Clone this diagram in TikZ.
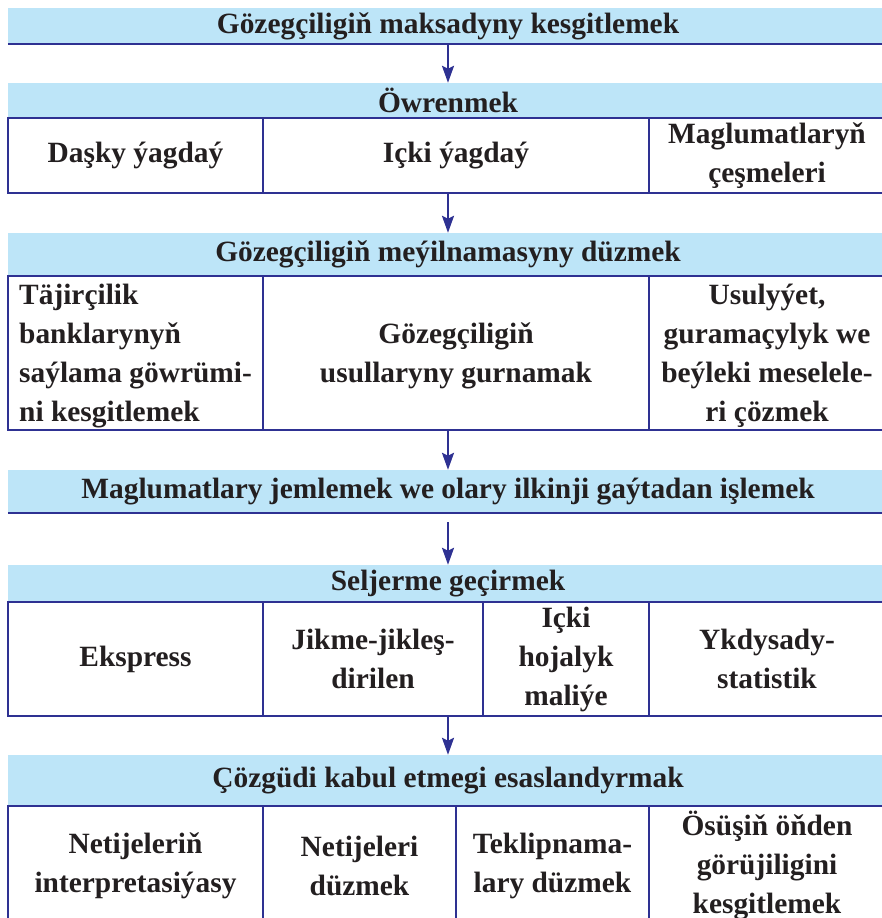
\documentclass[tikz,border=0pt]{standalone}
\usepackage{fontspec}
\setmainfont{Liberation Serif}
\usetikzlibrary{arrows.meta,calc}
\definecolor{barfill}{HTML}{BDE5F8}
\definecolor{lineblue}{HTML}{2E3192}
\definecolor{txt}{HTML}{231F20}
\begin{document}
\begin{tikzpicture}[x=1pt,y=-1pt,
  bar/.style={fill=barfill, minimum width=880pt, inner sep=0pt,
    font=\fontsize{29.4}{39}\selectfont\bfseries, text=txt},
  rowbox/.style={draw=lineblue, line width=1.8pt, minimum width=880pt, inner sep=0pt},
  cell/.style={font=\fontsize{29.4}{39}\selectfont\bfseries, text=txt, align=center, inner sep=0pt},
  sepline/.style={draw=lineblue, line width=1.8pt},
  flow/.style={draw=lineblue, line width=2.4pt, -{Stealth[length=17pt,width=12pt,inset=3pt]}}]
\useasboundingbox (0,0) rectangle (882,918);
\clip (0,0) rectangle (882,918);

% bars
\node[bar, minimum height=36pt] (bar1) at (448,26) {Gözegçiligiň maksadyny kesgitlemek};
\node[bar, minimum height=35pt] (bar2) at (448,100.5) {Öwrenmek};
\node[bar, minimum height=43pt] (bar3) at (448,254.5) {Gözegçiligiň meýilnamasyny düzmek};
\node[bar, minimum height=43pt] (bar4) at (448,491.5) {Maglumatlary jemlemek we olary ilkinji gaýtadan işlemek};
\node[bar, minimum height=37pt] (bar5) at (448,583.5) {Seljerme geçirmek};
\node[bar, minimum height=51pt] (bar6) at (448,780.5) {Çözgüdi kabul etmegi esaslandyrmak};

% rows
\node[rowbox, minimum height=75pt] (row2) at (448,155.5) {};
\node[rowbox, minimum height=154pt] (row3) at (448,353) {};
\node[rowbox, minimum height=114pt] (row5) at (448,659) {};
\node[rowbox, minimum height=120pt] (row6) at (448,866) {};

% bottom lines of bars
\foreach \b in {bar1,bar4} \draw[sepline] (\b.south west) -- (\b.south east);

% dividers
\draw[sepline] (263,118) -- (263,193);
\draw[sepline] (649,118) -- (649,193);
\draw[sepline] (263,276) -- (263,430);
\draw[sepline] (649,276) -- (649,430);
\draw[sepline] (263,602) -- (263,716);
\draw[sepline] (483,602) -- (483,716);
\draw[sepline] (649,602) -- (649,716);
\draw[sepline] (263,806) -- (263,926);
\draw[sepline] (456,806) -- (456,926);
\draw[sepline] (649,806) -- (649,926);

% row 2 cells
\node[cell] (r2a) at (135.5,155.5) {Daşky ýagdaý};
\node[cell] (r2b) at (456,155.5) {Içki ýagdaý};
\node[cell] (r2c) at (767,155.5) {Maglumatlaryň\\çeşmeleri};

% row 3 cells
\node[cell, align=left, anchor=west] (r3a) at (19,356) {Täjirçilik\\banklarynyň\\saýlama göwrümi-\\ni kesgitlemek};
\node[cell] (r3b) at (456,356) {Gözegçiligiň\\usullaryny gurnamak};
\node[cell] (r3c) at (767,356) {Usulyýet,\\guramaçylyk we\\beýleki meselele-\\ri çözmek};

% row 5 cells
\node[cell] (r5a) at (135.5,659) {Ekspress};
\node[cell] (r5b) at (373,659) {Jikme-jikleş-\\dirilen};
\node[cell] (r5c) at (566,659) {Içki\\hojalyk\\maliýe};
\node[cell] (r5d) at (767,659) {Ykdysady-\\statistik};

% row 6 cells
\node[cell] (r6a) at (135.5,866) {Netijeleriň\\interpretasiýasy};
\node[cell] (r6b) at (359.5,866) {Netijeleri\\düzmek};
\node[cell] (r6c) at (552.5,866) {Teklipnama-\\lary düzmek};
\node[cell] (r6d) at (767,866) {Ösüşiň öňden\\görüjiligini\\kesgitlemek};

% arrows
\draw[flow] (bar1.south) -- (bar2.north);
\draw[flow] (row2.south) -- (bar3.north);
\draw[flow] (row3.south) -- (bar4.north);
\draw[flow, shorten <=9pt] (bar4.south) -- (bar5.north);
\draw[flow] (row5.south) -- (bar6.north);
\end{tikzpicture}
\end{document}
